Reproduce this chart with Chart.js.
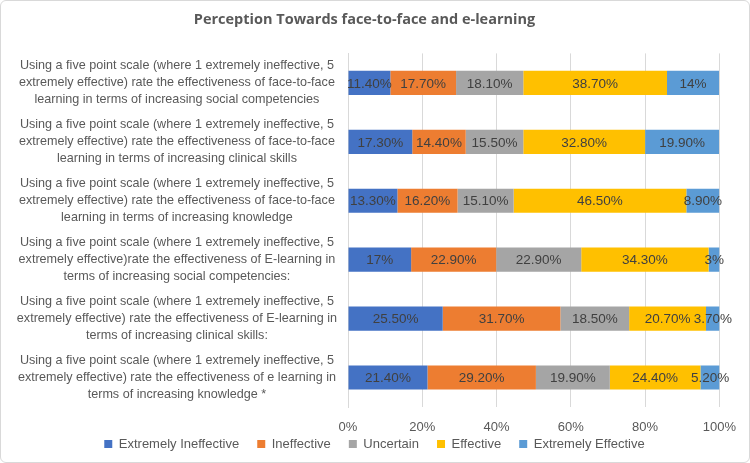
<!DOCTYPE html>
<html>
<head>
<meta charset="utf-8">
<script src="https://cdn.jsdelivr.net/npm/chart.js@4.4.1/dist/chart.umd.min.js"></script>
<style>
  html, body { margin: 0; padding: 0; background: #fff; }
  .frame {
    width: 750px; height: 463px; box-sizing: border-box;
    border: 1px solid #d9d9d9; border-radius: 6px; position: relative;
  }
  canvas { display: block; }
</style>
</head>
<body>
<div class="frame"><canvas id="perceptionChart" width="748" height="461"></canvas></div>
<script>
// question labels (top to bottom)
const questions = [
    ['Using a five point scale (where 1 extremely ineffective, 5', 'extremely effective) rate the effectiveness of face-to-face', 'learning in terms of increasing social competencies'],
    ['Using a five point scale (where 1 extremely ineffective, 5', 'extremely effective) rate the effectiveness of face-to-face', 'learning in terms of increasing clinical skills'],
    ['Using a five point scale (where 1 extremely ineffective, 5', 'extremely effective) rate the effectiveness of face-to-face', 'learning in terms of increasing knowledge'],
    ['Using a five point scale (where 1 extremely ineffective, 5', 'extremely effective)rate the effectiveness of E-learning in', 'terms of increasing social competencies:'],
    ['Using a five point scale (where 1 extremely ineffective, 5', 'extremely effective) rate the effectiveness of E-learning in', 'terms of increasing clinical skills:'],
    ['Using a five point scale (where 1 extremely ineffective, 5', 'extremely effective) rate the effectiveness of e learning in', 'terms of increasing knowledge *']
];

const extremelyIneffective = [11.4, 17.3, 13.3, 17, 25.5, 21.4];
const ineffective          = [17.7, 14.4, 16.2, 22.9, 31.7, 29.2];
const uncertain            = [18.1, 15.5, 15.1, 22.9, 18.5, 19.9];
const effective            = [38.7, 32.8, 46.5, 34.3, 20.7, 24.4];
const extremelyEffective   = [14, 19.9, 8.9, 3, 3.7, 5.2];

// labels as printed on the bars
const printed = [
    ['11.40%', '17.30%', '13.30%', '17%', '25.50%', '21.40%'],
    ['17.70%', '14.40%', '16.20%', '22.90%', '31.70%', '29.20%'],
    ['18.10%', '15.50%', '15.10%', '22.90%', '18.50%', '19.90%'],
    ['38.70%', '32.80%', '46.50%', '34.30%', '20.70%', '24.40%'],
    ['14%', '19.90%', '8.90%', '3%', '3.70%', '5.20%']
];

const FONT = "'Liberation Sans', Arial, sans-serif";
const GREY = '#595959';

// draws the value text in the middle of each bar segment
const barLabels = {
    id: 'barLabels',
    afterDatasetsDraw(chart) {
        const c = chart.ctx;
        c.save();
        c.font = '13.5px ' + FONT;
        c.fillStyle = '#404040';
        c.textAlign = 'center';
        c.textBaseline = 'middle';
        chart.data.datasets.forEach((ds, i) => {
            chart.getDatasetMeta(i).data.forEach((bar, j) => {
                const x = (bar.x + bar.base) / 2;
                c.fillText(printed[i][j], x, bar.y + 1);
            });
        });
        c.restore();
    }
};

// right layout padding pulls the legend off-centre, push it back
const legendNudge = {
    id: 'legendNudge',
    afterLayout(chart) {
        if (!chart.legend) return;
        chart.legend.left += 10;
        chart.legend.right += 10;
    }
};

const ctx = document.getElementById('perceptionChart');
new Chart(ctx, {
    type: 'bar',
    data: {
        labels: questions,
        datasets: [
            { label: 'Extremely Ineffective', data: extremelyIneffective, backgroundColor: '#4472C4' },
            { label: 'Ineffective', data: ineffective, backgroundColor: '#ED7D31' },
            { label: 'Uncertain', data: uncertain, backgroundColor: '#A5A5A5' },
            { label: 'Effective', data: effective, backgroundColor: '#FFC000' },
            { label: 'Extremely Effective', data: extremelyEffective, backgroundColor: '#5B9BD5' }
        ]
    },
    options: {
        indexAxis: 'y',
        responsive: false,
        animation: false,
        barPercentage: 0.41,
        categoryPercentage: 1,
        layout: { padding: { left: 6, right: 27, top: 6, bottom: 1.5 } },
        plugins: {
            title: {
                display: true,
                text: 'Perception Towards face-to-face and e-learning',
                color: GREY,
                font: { family: "'Open Sans', sans-serif", size: 14.5, weight: 'bold' },
                padding: { top: 4, bottom: 25 }
            },
            legend: {
                position: 'bottom',
                labels: {
                    color: GREY,
                    boxWidth: 8,
                    boxHeight: 8,
                    padding: 0,
                    font: { family: FONT, size: 13 },
                    // the gap between entries comes from trailing spaces, padding stays 0 so the row sits tight under the ticks
                    generateLabels(chart) {
                        const items = Chart.defaults.plugins.legend.labels.generateLabels(chart);
                        items.forEach((it, i) => {
                            if (i < items.length - 1) it.text += '\u00a0'.repeat(5);
                        });
                        return items;
                    }
                }
            },
            tooltip: { enabled: false }
        },
        scales: {
            x: {
                stacked: true,
                min: 0,
                max: 100,
                ticks: {
                    stepSize: 20,
                    color: GREY,
                    padding: 13,
                    font: { family: FONT, size: 13 },
                    callback: v => v + '%'
                },
                grid: { color: '#D9D9D9', drawTicks: false },
                border: { display: false },
                afterFit(scale) { scale.height = 30.5; }
            },
            y: {
                stacked: true,
                ticks: {
                    color: GREY,
                    crossAlign: 'center',
                    font: { family: FONT, size: 12.6, lineHeight: 1.35 }
                },
                grid: { display: false },
                border: { color: '#D9D9D9' },
                afterFit(scale) { scale.width = 341; }
            }
        }
    },
    plugins: [barLabels, legendNudge]
});
</script>
</body>
</html>
